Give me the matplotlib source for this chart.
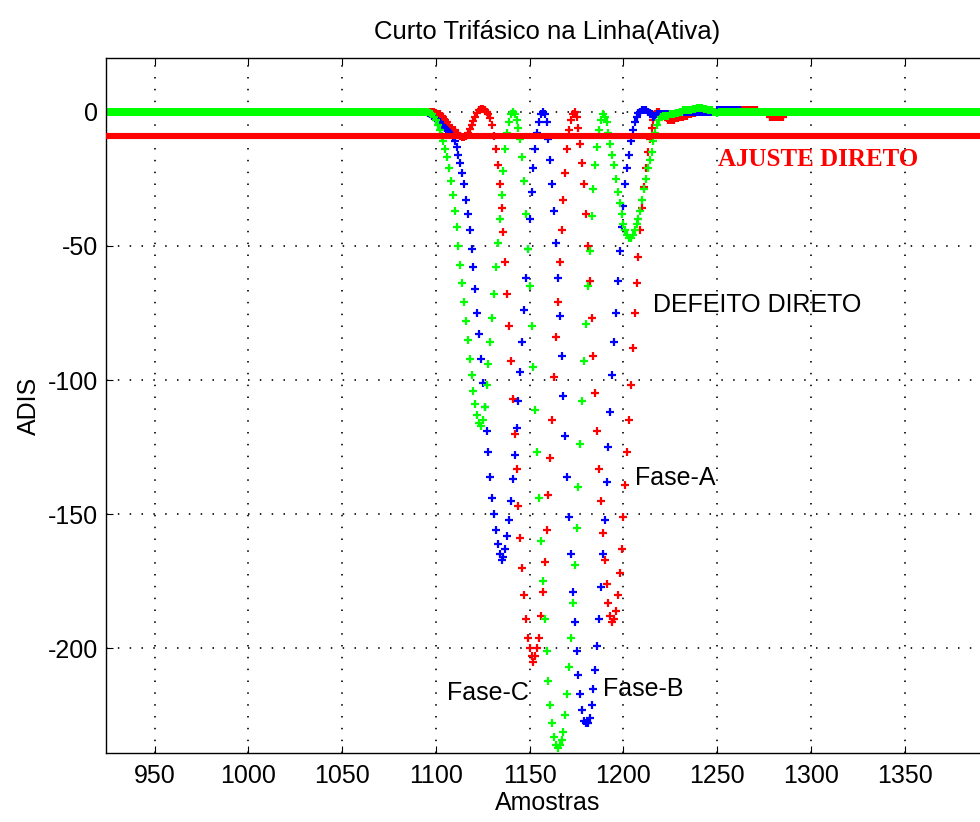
import numpy as np
import matplotlib
matplotlib.use('Agg')
import matplotlib.pyplot as plt

plt.rcParams['font.family'] = ['Liberation Sans', 'DejaVu Sans']
plt.rcParams['axes.unicode_minus'] = False

# amostras mostradas e inicio do trecho com falta
x_ini, x_fim = 924, 1395
falta_ini = 1094

# valores, uma amostra por valor a partir de 1094
fase_a = [  # vermelho
    0, 0, 0, 0, 0, 0, -0.5, -1, -1, -1.5,
    -2, -3, -4, -5, -6, -7, -7, -8, -8.5, -9,
    -9.5, -9.5, -9, -8, -6.5, -5, -3.5, -2, -0.5, 0.5,
    1, 1, 0.5, 0, -1, -2.5, -5, -9, -14, -20,
    -27, -36, -45, -56, -68, -80, -93, -107, -120, -133,
    -147, -159, -170, -180, -189, -196, -200, -203, -205, -203,
    -200, -196, -188, -179, -168, -156, -143, -129, -115, -99,
    -84, -71, -56, -44, -33, -23, -14, -7, -3, -1,
    0, -2, -6, -12, -19, -27, -38, -50, -63, -77,
    -91, -105, -119, -133, -145, -157, -167, -176, -183, -188,
    -190, -189, -186, -180, -172, -163, -151, -139, -127, -115,
    -102, -88, -75, -64, -54, -44, -36, -28, -21, -15,
    -10, -6, -3, -1, 0, 0, -1, -1.5, -2, -2.5,
    -3, -3, -3, -3, -2.5, -2.5, -2, -2, -2, -1.5,
    -1.5, -1, -1, -0.5, -0.5, 0, 0, 0, 0, 0,
    0, 0, 0, 0, 0, 0, 0, 0, 0, 0,
    0, 0, 0, 0, 0, 0, 0, 0, 0.7, 0.7,
    0.7, 0.7, 0.7, 0.7, 0.7, 0.7, 0.7, 0.7, 0, 0,
    0, 0, 0, 0, -2, -2, -2, -2, -2, -2,
    -2, -2,
]
fase_b = [  # azul
    0, 0, -0.5, -1, -1.5, -2, -3, -3.5, -4, -5,
    -5.5, -6, -7, -7.5, -8.5, -9.5, -11, -13, -16, -19,
    -23, -27, -33, -38, -44, -51, -58, -66, -75, -83,
    -92, -101, -110, -119, -127, -136, -144, -150, -156, -161,
    -165, -167, -166, -163, -158, -152, -145, -137, -128, -118,
    -108, -97, -86, -74, -62, -51, -40, -30, -21, -14,
    -8, -4, -1, 0, -1, -4, -10, -18, -27, -37,
    -49, -62, -76, -91, -106, -121, -136, -151, -165, -179,
    -190, -201, -210, -217, -223, -227, -228, -228, -226, -221,
    -215, -208, -199, -189, -177, -165, -152, -138, -125, -112,
    -98, -86, -75, -63, -52, -43, -35, -27, -21, -16,
    -11, -7, -4, -2, -0.5, 0, 0.5, 0.5, 0.5, 0,
    -0.5, -1, -2, -1.5, -1, -1, -1, -1, -1, -1,
    -1, -1, -1, -1, -0.5, -0.5, 0, 0, 0, 0,
    0, 0, 0, 0, 0, 0, 0, 0, 0, 0,
    0, 0, 0, 0, 0, 0, 0.7, 0.7, 0.7, 0.7,
    0.7, 0.7, 0.7, 0.7, 0.7, 0.7, 0.7, 0.7, 0.7,
]
fase_c = [  # verde
    0, 0, 0, -0.5, -1, -2, -3, -5, -7, -9,
    -11, -14, -17, -21, -26, -31, -37, -43, -50, -57,
    -64, -71, -78, -85, -92, -98, -104, -109, -113, -116,
    -117, -115, -110, -102, -94, -86, -77, -68, -58, -49,
    -40, -31, -22, -14, -8, -4, -1, 0, -1, -3,
    -6, -10, -17, -26, -38, -51, -65, -80, -95, -111,
    -127, -144, -160, -175, -189, -201, -212, -221, -228, -233,
    -236, -237, -236, -234, -231, -225, -217, -207, -196, -183,
    -169, -155, -140, -124, -108, -93, -79, -65, -52, -39,
    -29, -20, -13, -7, -3, -1, -2, -4, -8, -12,
    -16, -20, -25, -30, -34, -38, -42, -44, -46, -47,
    -47, -46, -44, -42, -40, -37, -33, -29, -25, -21,
    -18, -15, -11, -8, -5, -3, -2, -1.5, -1.5, -1.5,
    -1.5, -1, -1, -1, -0.5, -0.5, 0, 0, 0.5, 0.5,
    0.5, 0.5, 0.5, 1, 1, 1.5, 1.5, 1.5, 1.5, 1,
    1, 0.5, 0.5, 0.5, 0, 0, -0.5,
]
ajuste = -9

amostras = np.arange(x_ini, x_fim + 1)


def serie(vals):
    y = np.zeros(len(amostras))
    i = falta_ini - x_ini
    y[i:i + len(vals)] = vals
    return y


fig = plt.figure(figsize=(9.8, 8.22), dpi=100)
ax = fig.add_axes([106 / 980, 69 / 822, 883 / 980, 695 / 822])

kw = dict(linestyle='none', marker='+', markersize=6, markeredgewidth=1.6)
ax.plot(amostras, serie(fase_a), color='#ff0000', **kw)
ax.plot(amostras, serie(fase_b), color='#0000ff', **kw)
ax.plot(amostras, serie(fase_c), color='#00ff00', **kw)
ax.axhline(ajuste, color='#ff0000', linewidth=4.4, zorder=4)

ax.set_xlim(x_ini, x_fim)
ax.set_ylim(-239, 20)
ax.set_xticks(np.arange(950, 1400, 50))
ax.set_yticks(np.arange(-200, 1, 50))
ax.grid(True, color='black', linestyle=(0, (0.9, 6.2)), linewidth=1.2)
ax.tick_params(direction='in', length=5, width=0.8, labelsize=18, top=True, right=True)
ax.tick_params(axis='x', pad=8)
ax.tick_params(axis='y', pad=6)
for s in ax.spines.values():
    s.set_linewidth(1.0)

ax.set_title('Curto Trifásico na Linha(Ativa)', fontsize=18.5, pad=14)
ax.set_xlabel('Amostras', fontsize=18)
ax.set_ylabel('ADIS', fontsize=18)
ax.xaxis.set_label_coords(0.5, -0.055)
ax.yaxis.set_label_coords(-0.074, 0.5)

ax.text(1215.7, -72, 'DEFEITO DIRETO', fontsize=18, va='center')
ax.text(1250.4, -18, 'AJUSTE DIRETO', fontsize=18, va='center', color='#ff0000',
        family=['Liberation Serif', 'DejaVu Serif'], fontweight='bold')
ax.text(1206, -136.5, 'Fase-A', fontsize=18, va='center')
ax.text(1189, -215, 'Fase-B', fontsize=18, va='center')
ax.text(1106, -216.5, 'Fase-C', fontsize=18, va='center')

fig.savefig('out.png', dpi=100)
